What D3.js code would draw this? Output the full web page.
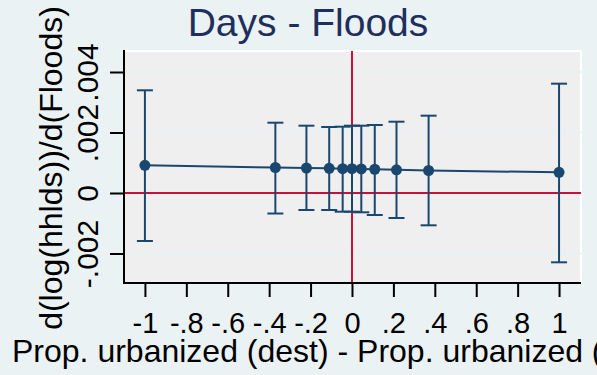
<!DOCTYPE html>
<html>
<head>
<meta charset="utf-8">
<script src="https://cdn.jsdelivr.net/npm/d3@7"></script>
<style>
  html, body { margin: 0; padding: 0; background: #eaf2f3; }
  svg { display: block; }
  text { font-family: "Liberation Sans", Arial, sans-serif; }
</style>
</head>
<body>
<svg id="chart" width="597" height="375"></svg>
<script>
// Marginal effect of floods on log households, by urbanization gap
const gapValues   = [-1, -0.37, -0.22, -0.11, -0.045, 0, 0.045, 0.11, 0.215, 0.37, 1];
const estimates   = [0.000916, 0.000843, 0.000826, 0.000817, 0.000805, 0.000803, 0.000795, 0.000785, 0.000765, 0.000744, 0.000684];
const ciLower     = [-0.001587, -0.000678, -0.000562, -0.000562, -0.000618, -0.000618, -0.000638, -0.000727, -0.000826, -0.001068, -0.002291];
const ciUpper     = [0.003395, 0.002324, 0.002225, 0.002182, 0.002192, 0.002225, 0.002225, 0.002248, 0.002357, 0.002556, 0.003614];

const xTicks      = [-1, -0.8, -0.6, -0.4, -0.2, 0, 0.2, 0.4, 0.6, 0.8, 1];
const xTickLabels = ["-1", "-.8", "-.6", "-.4", "-.2", "0", ".2", ".4", ".6", ".8", "1"];
const yTicks      = [-0.002, 0, 0.002, 0.004];
const yTickLabels = ["-.002", "0", ".002", ".004"];

const titleText  = "Days - Floods";
const xTitleText = "Prop. urbanized (dest) - Prop. urbanized (orig)";
const yTitleText = "d(log(hhlds))/d(Floods)";

const svg = d3.select("#chart");
const W = 597, H = 375;
const plot = { left: 124, right: 581, top: 51, bottom: 283 };

const navy = "#1a476f";
const red = "#c8103c";

const x = d3.scaleLinear().domain([-1.101, 1.106]).range([plot.left, plot.right]);
const y = d3.scaleLinear().domain([-0.002975, 0.004694]).range([plot.bottom, plot.top]);

svg.append("rect").attr("width", W).attr("height", H).attr("fill", "#eaf2f3");

// plot region
svg.append("rect")
  .attr("x", plot.left).attr("y", plot.top)
  .attr("width", plot.right - plot.left).attr("height", plot.bottom - plot.top)
  .attr("fill", "#efefef").attr("stroke", "#ffffff").attr("stroke-width", 2);

// horizontal grid lines
svg.append("g").selectAll("line").data(yTicks.filter(v => v !== 0)).join("line")
  .attr("x1", plot.left).attr("x2", plot.right + 1)
  .attr("y1", d => y(d)).attr("y2", d => y(d))
  .attr("stroke", "#e7f0f2").attr("stroke-width", 1.6);

// reference lines at zero
svg.append("line")
  .attr("x1", plot.left).attr("x2", plot.right)
  .attr("y1", y(0)).attr("y2", y(0))
  .attr("stroke", red).attr("stroke-width", 2);
svg.append("line")
  .attr("x1", x(0)).attr("x2", x(0))
  .attr("y1", plot.top).attr("y2", plot.bottom)
  .attr("stroke", red).attr("stroke-width", 2);

const rows = gapValues.map((g, i) => ({ g, est: estimates[i], lo: ciLower[i], hi: ciUpper[i] }));

// confidence intervals
const bars = svg.append("g").attr("stroke", navy).attr("stroke-width", 2).attr("fill", "none");
bars.selectAll("line.v").data(rows).join("line").attr("class", "v")
  .attr("x1", d => x(d.g)).attr("x2", d => x(d.g))
  .attr("y1", d => y(d.lo)).attr("y2", d => y(d.hi));
bars.selectAll("line.hi").data(rows).join("line").attr("class", "hi")
  .attr("x1", d => x(d.g) - 8).attr("x2", d => x(d.g) + 8)
  .attr("y1", d => y(d.hi)).attr("y2", d => y(d.hi));
bars.selectAll("line.lo").data(rows).join("line").attr("class", "lo")
  .attr("x1", d => x(d.g) - 8).attr("x2", d => x(d.g) + 8)
  .attr("y1", d => y(d.lo)).attr("y2", d => y(d.lo));

// connected point estimates
svg.append("path").datum(rows)
  .attr("fill", "none").attr("stroke", navy).attr("stroke-width", 2)
  .attr("d", d3.line().x(d => x(d.g)).y(d => y(d.est)));
svg.append("g").selectAll("circle").data(rows).join("circle")
  .attr("cx", d => x(d.g)).attr("cy", d => y(d.est)).attr("r", 5.5)
  .attr("fill", navy);

// axes
const xAxis = svg.append("g").attr("transform", `translate(0,${plot.bottom})`)
  .call(d3.axisBottom(x).tickValues(xTicks).tickSize(14).tickPadding(2)
    .tickFormat((d, i) => xTickLabels[i]));
xAxis.select(".domain").attr("d", `M${plot.left - 1},0H${plot.right}`)
  .attr("stroke", "#000").attr("stroke-width", 2);
xAxis.selectAll(".tick line").attr("stroke", "#000").attr("stroke-width", 2);
xAxis.selectAll(".tick text")
  .attr("fill", "#000").attr("font-size", 29)
  .attr("y", null).attr("dy", null)
  .attr("transform", "translate(0,50)");

const yAxis = svg.append("g").attr("transform", `translate(${plot.left},0)`)
  .call(d3.axisLeft(y).tickValues(yTicks).tickSize(14).tickFormat((d, i) => yTickLabels[i]));
yAxis.select(".domain").attr("d", `M0,${plot.top - 1}V${plot.bottom + 1}`)
  .attr("stroke", "#000").attr("stroke-width", 2);
yAxis.selectAll(".tick line").attr("stroke", "#000").attr("stroke-width", 2);
yAxis.selectAll(".tick text")
  .attr("fill", "#000").attr("font-size", 30)
  .attr("x", null).attr("dy", null)
  .attr("text-anchor", "middle")
  .attr("transform", "translate(-26,0) rotate(-90)");

// titles
svg.append("text")
  .attr("x", 308).attr("y", 36).attr("text-anchor", "middle")
  .attr("font-size", 39).attr("fill", "#1e2f5e")
  .text(titleText);

svg.append("text")
  .attr("x", 12).attr("y", 362).attr("text-anchor", "start")
  .attr("font-size", 32).attr("fill", "#000")
  .text(xTitleText);

svg.append("text")
  .attr("transform", "translate(62,168) rotate(-90)")
  .attr("text-anchor", "middle")
  .attr("font-size", 32).attr("fill", "#000")
  .text(yTitleText);
</script>
</body>
</html>
